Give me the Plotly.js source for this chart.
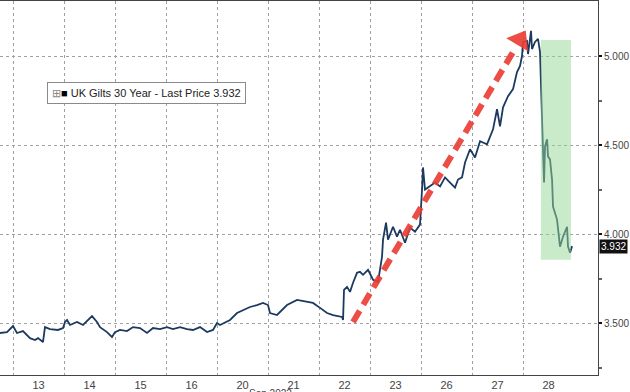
<!DOCTYPE html>
<html>
<head>
<meta charset="utf-8">
<script src="https://cdn.plot.ly/plotly-3.0.1.min.js"></script>
<style>html,body{margin:0;padding:0;background:#fff;}#chart{width:630px;height:392px;}</style>
</head>
<body>
<div id="chart"></div>
<script>
// Trading days (Sep 2022), one unit per day on the x axis
var dayLabels = ["13","14","15","16","20","21","22","23","26","27","28"];
// Time in trading-day units (0 = start of 13 Sep)
var t = [-0.255,-0.118,0.000,0.078,0.196,0.333,0.431,0.490,0.588,0.627,0.725,0.882,0.980,
1.020,1.059,1.118,1.255,1.373,1.549,1.647,1.706,1.843,1.941,
2.000,2.098,2.235,2.353,2.490,2.627,2.745,2.882,
3.020,3.137,3.275,3.412,3.529,3.667,3.804,3.922,
4.000,4.059,4.255,4.392,4.510,4.647,4.784,4.902,
5.000,5.039,5.176,5.275,5.373,5.569,5.765,5.882,
6.020,6.157,6.275,6.451,6.471,6.490,6.549,6.608,6.667,6.745,6.804,6.863,6.961,
7.059,7.157,7.235,7.255,7.314,7.353,7.451,7.529,7.588,7.686,7.784,7.882,7.980,
8.020,8.039,8.078,8.176,8.275,8.373,8.471,8.569,8.667,8.725,8.804,8.863,8.961,
9.059,9.157,9.294,9.412,9.490,9.549,9.608,9.706,9.804,9.882,9.941,9.980,
10.000,10.078,10.098,10.157,10.176,10.235,10.294,10.333,10.353,10.373,10.392,10.412,
10.431,10.471,10.490,10.529,10.569,10.588,10.667,10.725,10.784,10.863,10.882,10.922,10.961];
// UK 30Y gilt yield, %
var yieldPct = [3.444,3.449,3.483,3.444,3.455,3.415,3.404,3.415,3.393,3.477,3.466,3.461,3.472,
3.506,3.517,3.489,3.506,3.489,3.539,3.506,3.477,3.449,3.421,
3.449,3.461,3.455,3.477,3.472,3.444,3.472,3.466,
3.477,3.466,3.477,3.466,3.461,3.477,3.449,3.461,
3.500,3.489,3.517,3.556,3.573,3.590,3.601,3.613,
3.601,3.556,3.545,3.573,3.601,3.630,3.618,3.613,
3.585,3.556,3.545,3.534,3.517,3.686,3.703,3.675,3.726,3.782,3.788,3.771,3.799,
3.743,3.731,3.872,3.968,4.064,3.968,4.041,3.985,4.024,3.951,4.036,4.013,4.053,
4.250,4.374,4.250,4.267,4.289,4.267,4.318,4.289,4.261,4.306,4.318,4.402,4.476,
4.430,4.521,4.504,4.588,4.701,4.605,4.712,4.774,4.814,4.910,4.944,5.000,
5.079,5.085,5.011,5.141,5.039,5.079,5.096,5.023,4.831,4.645,4.459,4.289,
4.492,4.532,4.436,4.419,4.306,4.154,4.081,3.929,3.985,4.041,3.929,3.895,3.932];
var lastPrice = 3.932;
var seriesName = "UK Gilts 30 Year - Last Price";
var yTicks = [3.5, 4.0, 4.5, 5.0];
var yMinorTicks = [3.25, 3.75, 4.25, 4.75];
// Red dashed arrow (annotation): start, end of shaft, head
var arrowT = [6.667, 9.863];
var arrowY = [3.506, 5.051];
var arrowHeadT = [9.941];
var arrowHeadY = [5.090];
// Green highlight box
var boxT = [10.35, 10.94];
var boxY = [3.855, 5.09];

var labelVals = dayLabels.map(function(_, i){ return i + 0.5; });
var gridVals = dayLabels.map(function(_, i){ return i; });

var traces = [
  {x: t, y: yieldPct, type: 'scatter', mode: 'lines', name: seriesName,
   line: {color: '#1c3a60', width: 1.8}, hoverinfo: 'skip'},
  {x: arrowT, y: arrowY, type: 'scatter', mode: 'lines',
   line: {color: 'rgba(234,62,52,0.92)', width: 6, dash: '13px,7px'}, hoverinfo: 'skip'},
  {x: arrowHeadT, y: arrowHeadY, type: 'scatter', mode: 'markers',
   marker: {symbol: 'triangle-up', size: 22, angle: 31, color: 'rgba(234,62,52,0.92)', line: {width: 0}}, hoverinfo: 'skip'}
];

var layout = {
  width: 630, height: 392,
  margin: {l: 0, r: 32, t: 1, b: 17},
  paper_bgcolor: '#ffffff', plot_bgcolor: '#ffffff',
  showlegend: false,
  font: {family: 'Liberation Sans, Arial, sans-serif', size: 11, color: '#333'},
  xaxis: {
    range: [-0.255, 11.47], tickmode: 'array', tickvals: labelVals, ticktext: dayLabels,
    showgrid: false, zeroline: false, ticks: '', showline: true, mirror: true,
    linecolor: '#444', linewidth: 1, tickfont: {size: 11, color: '#444'},
    minor: {tickmode: 'array', tickvals: gridVals, showgrid: true, gridcolor: '#a0a0a0',
            griddash: 'dot', gridwidth: 1, ticks: ''}
  },
  yaxis: {
    side: 'right', range: [3.208, 5.309], tickmode: 'array', tickvals: yTicks,
    tickformat: '.3f', showgrid: true, gridcolor: '#a0a0a0', griddash: 'dot',
    zeroline: false, ticks: 'outside', ticklen: 3, tickwidth: 2, tickcolor: '#111',
    showline: true, linecolor: '#444', linewidth: 1, tickfont: {size: 10, color: '#444'},
    minor: {tickmode: 'array', tickvals: yMinorTicks, ticks: 'outside', ticklen: 3,
            tickcolor: '#666', showgrid: false}
  },
  shapes: [
    {type: 'rect', xref: 'x', yref: 'y', x0: boxT[0], x1: boxT[1], y0: boxY[0], y1: boxY[1],
     fillcolor: 'rgba(150,215,150,0.5)', line: {width: 0}, layer: 'above'}
  ],
  annotations: [
    {xref: 'paper', yref: 'paper', x: 47/598, y: 1 - 81/374, xanchor: 'left', yanchor: 'top',
     text: '<span style="color:#888">⊞</span><span style="color:#000">■</span> ' + seriesName + ' ' + lastPrice.toFixed(3),
     showarrow: false, bgcolor: '#ffffff', bordercolor: '#8a8a8a', borderwidth: 1, borderpad: 4,
     font: {size: 11, color: '#222'}},
    {xref: 'paper', yref: 'y', x: 1, y: lastPrice, xanchor: 'left', xshift: 1,
     text: lastPrice.toFixed(3), showarrow: false, bgcolor: '#111', borderpad: 1,
     font: {size: 10, color: '#ffffff'}},
    {xref: 'paper', yref: 'paper', x: 270/598, y: -11/374, xanchor: 'center', yanchor: 'top',
     text: 'Sep 2022', showarrow: false, font: {size: 10, color: '#444'}}
  ]
};

Plotly.newPlot('chart', traces, layout, {displayModeBar: false, staticPlot: true});
</script>
</body>
</html>
